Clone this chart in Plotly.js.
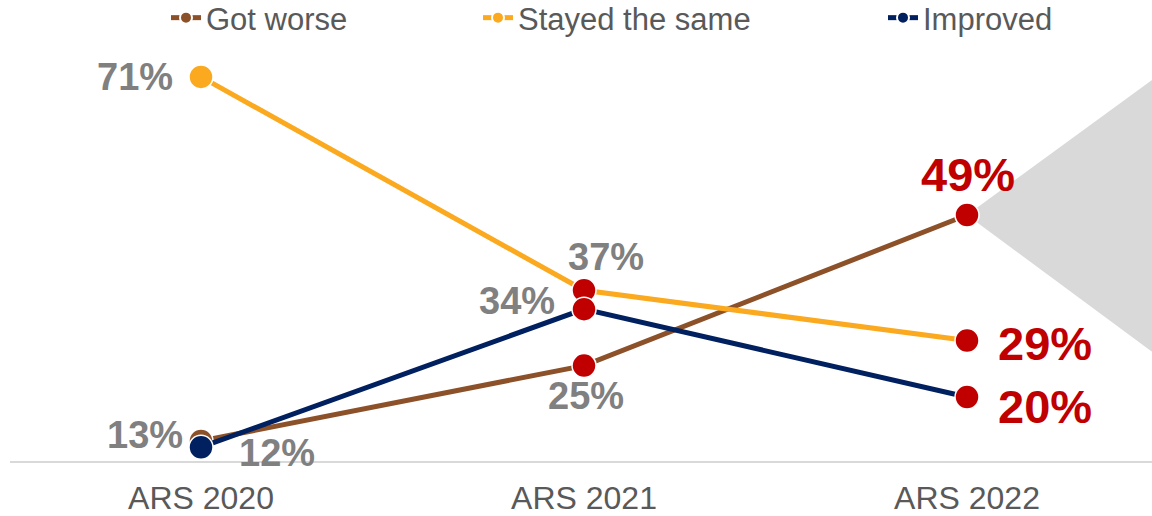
<!DOCTYPE html>
<html><head><meta charset="utf-8">
<script src="https://cdn.plot.ly/plotly-3.0.1.min.js"></script>
<style>html,body{margin:0;padding:0;background:#fff}#chart{width:1152px;height:516px}</style>
</head><body><div id="chart"></div>
<script>
// ---- data ----
const categories = ['ARS 2020', 'ARS 2021', 'ARS 2022'];
const seriesNames = ['Got worse', 'Stayed the same', 'Improved'];
const gotWorse = [13, 25, 49];
const stayedSame = [71, 37, 29];
const improved = [12, 34, 20];
// highlight wedge (category index, value)
const wedgeX = [2, 2.483, 2.483];
const wedgeY = [49, 70.5, 27.2];

// ---- styles ----
const seriesValues = [gotWorse, stayedSame, improved];
const seriesColors = ['#8C5129', '#FBA91F', '#002060'];
const RED = '#C00000', GRAY = '#808080', TXT = '#595959';
// label offsets [xshift, yshift] per series per point
const labelShift = [
  [[-56, 6], [2, -30], [1, 40]],
  [[-66, 0], [22, 33], [78, -3]],
  [[76, -6], [-67, 8], [78, -10]]
];
const legendX = [166, 478, 883];

const traces = seriesValues.map((vals, s) => ({
  type: 'scatter', mode: 'lines+markers', name: seriesNames[s],
  x: categories, y: vals,
  line: {color: seriesColors[s], width: 5},
  marker: {size: 24, color: vals.map((v, i) => i === 0 ? seriesColors[s] : RED),
           line: {color: '#fff', width: 1.5}},
  cliponaxis: false,
  legend: s === 0 ? 'legend' : 'legend' + (s + 1),
  hoverinfo: 'skip'
}));

const annotations = [];
seriesValues.forEach((vals, s) => vals.forEach((v, i) => {
  annotations.push({
    x: categories[i], y: v, xref: 'x', yref: 'y', text: v + '%', showarrow: false,
    xshift: labelShift[s][i][0], yshift: labelShift[s][i][1],
    font: {family: 'Liberation Sans, Arial, sans-serif', size: i === 2 ? 47 : 38,
           color: i === 2 ? RED : GRAY, weight: 'bold'}
  });
}));

const mkLegend = (x) => ({
  orientation: 'h', xref: 'container', yref: 'container', x: x / 1152, xanchor: 'left',
  y: 1 - 18 / 516, yanchor: 'middle', bgcolor: 'rgba(0,0,0,0)', itemsizing: 'constant',
  font: {family: 'Liberation Sans, Arial, sans-serif', size: 31, color: TXT}
});

const layout = {
  width: 1152, height: 516,
  margin: {l: 10, r: 0, t: 50, b: 55},
  paper_bgcolor: '#fff', plot_bgcolor: '#fff',
  showlegend: true,
  legend: mkLegend(legendX[0]),
  legend2: mkLegend(legendX[1]),
  legend3: mkLegend(legendX[2]),
  xaxis: {type: 'category', range: [-0.4987, 2.483], showgrid: false, zeroline: false,
          showline: true, linecolor: '#D9D9D9', linewidth: 1.5, ticks: '',
          ticklabelstandoff: 8,
          tickfont: {family: 'Liberation Sans, Arial, sans-serif', size: 32, color: TXT}},
  yaxis: {range: [9.8, 75.29], visible: false, showgrid: false, zeroline: false},
  shapes: [{type: 'path', xref: 'x', yref: 'y', layer: 'below', line: {width: 0},
            fillcolor: '#D9D9D9',
            path: 'M ' + wedgeX.map((x, i) => x + ' ' + wedgeY[i]).join(' L ') + ' Z'}],
  annotations: annotations
};

Plotly.newPlot('chart', traces, layout, {displayModeBar: false, staticPlot: true});
</script></body></html>
